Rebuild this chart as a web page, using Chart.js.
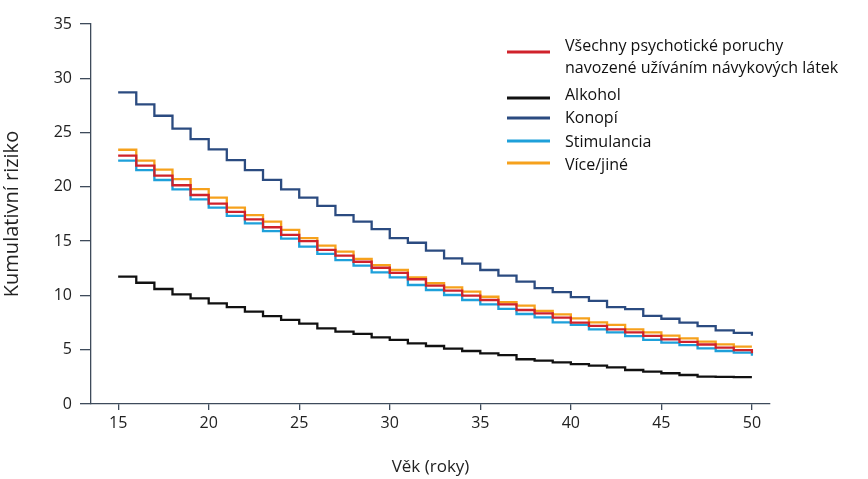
<!DOCTYPE html>
<html>
<head>
<meta charset="utf-8">
<title>Kumulativní riziko</title>
<script src="https://cdn.jsdelivr.net/npm/chart.js@4.4.1/dist/chart.umd.min.js"></script>
<style>
html, body { margin: 0; padding: 0; background: #fff; }
#wrap { width: 868px; height: 479px; }
</style>
</head>
<body>
<div id="wrap"><canvas id="myChart" width="868" height="479"></canvas></div>
<script>
// age in years, one step per year
var years = [15, 16, 17, 18, 19, 20, 21, 22, 23, 24, 25, 26, 27, 28, 29, 30, 31, 32,
             33, 34, 35, 36, 37, 38, 39, 40, 41, 42, 43, 44, 45, 46, 47, 48, 49, 50];
var xTicks = [15, 20, 25, 30, 35, 40, 45, 50];

var all_subst = [22.87, 21.95, 21.03, 20.15, 19.25, 18.45, 17.7, 17.0, 16.28, 15.57, 15.0, 14.2,
                 13.66, 13.1, 12.55, 12.08, 11.49, 10.9, 10.44, 9.98, 9.58, 9.18, 8.66, 8.34,
                 7.95, 7.5, 7.2, 6.88, 6.6, 6.28, 5.96, 5.72, 5.48, 5.2, 4.97, 4.67];
var alkohol = [11.73, 11.17, 10.59, 10.1, 9.73, 9.27, 8.93, 8.5, 8.1, 7.74, 7.4, 6.97,
               6.66, 6.45, 6.14, 5.9, 5.59, 5.34, 5.1, 4.88, 4.67, 4.5, 4.12, 3.99,
               3.84, 3.68, 3.53, 3.38, 3.13, 2.98, 2.83, 2.67, 2.52, 2.49, 2.47, 2.47];
var konopi = [28.7, 27.6, 26.55, 25.36, 24.4, 23.46, 22.47, 21.55, 20.65, 19.77, 19.0, 18.24,
              17.4, 16.8, 16.1, 15.28, 14.85, 14.12, 13.42, 12.93, 12.34, 11.82, 11.27, 10.68,
              10.3, 9.85, 9.5, 8.93, 8.73, 8.12, 7.85, 7.5, 7.18, 6.78, 6.55, 6.28];
var stimulancia = [22.41, 21.55, 20.63, 19.77, 18.85, 18.08, 17.32, 16.64, 15.93, 15.23, 14.5, 13.82,
                   13.26, 12.74, 12.13, 11.67, 10.96, 10.5, 10.04, 9.58, 9.18, 8.77, 8.29, 7.98,
                   7.52, 7.28, 6.88, 6.6, 6.26, 5.9, 5.65, 5.43, 5.13, 4.88, 4.73, 4.45];
var vice_jine = [23.42, 22.41, 21.58, 20.72, 19.8, 19.0, 18.08, 17.4, 16.8, 16.03, 15.28, 14.58,
                 14.03, 13.36, 12.8, 12.34, 11.67, 11.12, 10.75, 10.35, 9.88, 9.37, 9.06, 8.57,
                 8.26, 7.89, 7.52, 7.28, 6.88, 6.6, 6.29, 6.05, 5.74, 5.5, 5.28, 5.28];

var seriesNames = [
    ['Všechny psychotické poruchy', 'navozené užíváním návykových látek'],
    ['Alkohol'],
    ['Konopí'],
    ['Stimulancia'],
    ['Více/jiné']
];
var seriesValues = [all_subst, alkohol, konopi, stimulancia, vice_jine];
var seriesColors = ['#d0222b', '#111111', '#2b4b80', '#1ea0da', '#f6a11c'];

var fontFamily = '"Open Sans", "Noto Sans", sans-serif';
var axisColor = '#3e4b5b';

function toPoints(vals) {
    var arr = [];
    for (var i = 0; i < years.length; i++) {
        arr.push({x: years[i], y: vals[i]});
    }
    return arr;
}

var datasets = [];
for (var i = 0; i < seriesValues.length; i++) {
    datasets.push({
        label: seriesNames[i],
        data: toPoints(seriesValues[i]),
        borderColor: seriesColors[i],
        backgroundColor: seriesColors[i],
        borderWidth: 2.3,
        pointRadius: 0,
        stepped: 'before',   // hold value for the year, then drop
        fill: false
    });
}

// legend drawn by hand, top right, like the figure
var legendRows = [
    {lineY: 52, textY: [46, 68]},
    {lineY: 98, textY: [95]},
    {lineY: 118, textY: [118]},
    {lineY: 141, textY: [142]},
    {lineY: 163, textY: [165]}
];
var customLegend = {
    id: 'customLegend',
    afterDraw: function(chart) {
        var ctx = chart.ctx;
        ctx.save();
        ctx.font = '16px ' + fontFamily;
        ctx.fillStyle = '#111';
        ctx.textBaseline = 'middle';
        ctx.textAlign = 'left';
        for (var i = 0; i < legendRows.length; i++) {
            var row = legendRows[i];
            ctx.strokeStyle = seriesColors[i];
            ctx.lineWidth = 3;
            ctx.beginPath();
            ctx.moveTo(507, row.lineY);
            ctx.lineTo(550, row.lineY);
            ctx.stroke();
            for (var j = 0; j < seriesNames[i].length; j++) {
                ctx.fillText(seriesNames[i][j], 565, row.textY[j]);
            }
        }
        ctx.restore();
    }
};

var ctx = document.getElementById('myChart').getContext('2d');
var myChart = new Chart(ctx, {
    type: 'line',
    data: { datasets: datasets },
    plugins: [customLegend],
    options: {
        responsive: false,
        animation: false,
        layout: { padding: { top: 24, right: 98, left: 0, bottom: 0 } },
        plugins: {
            legend: { display: false },
            tooltip: { enabled: false }
        },
        scales: {
            x: {
                type: 'linear',
                min: 13.5,
                max: 51,
                afterBuildTicks: function(scale) {
                    scale.ticks = xTicks.map(function(v) { return {value: v}; });
                },
                afterFit: function(scale) { scale.height = 75; },
                grid: { display: true, drawOnChartArea: false, drawTicks: true, tickLength: 6, color: axisColor, lineWidth: 1.3 },
                border: { display: true, color: axisColor, width: 1.3 },
                ticks: { color: '#222', padding: 4, font: { family: fontFamily, size: 16 } },
                title: {
                    display: true,
                    text: 'Věk (roky)',
                    color: '#222',
                    font: { family: fontFamily, size: 17 },
                    padding: { top: 0, bottom: 2 }
                }
            },
            y: {
                min: 0,
                max: 35,
                afterFit: function(scale) { scale.width = 91; },
                grid: { display: true, drawOnChartArea: false, drawTicks: true, tickLength: 11, color: axisColor, lineWidth: 1.3 },
                border: { display: true, color: axisColor, width: 1.3 },
                ticks: { stepSize: 5, color: '#222', padding: 8, font: { family: fontFamily, size: 16 } },
                title: {
                    display: true,
                    text: 'Kumulativní riziko',
                    color: '#222',
                    font: { family: fontFamily, size: 20 },
                    padding: { top: 0, bottom: 10 }
                }
            }
        }
    }
});
</script>
</body>
</html>
